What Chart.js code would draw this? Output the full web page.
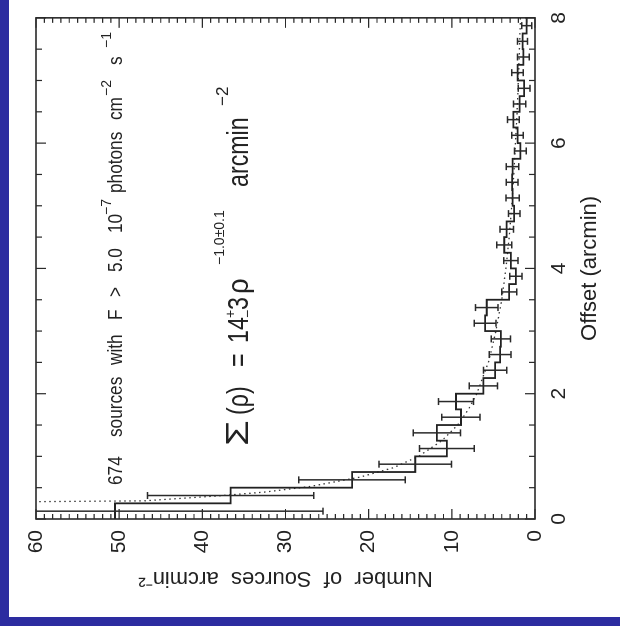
<!DOCTYPE html>
<html>
<head>
<meta charset="utf-8">
<script src="https://cdn.jsdelivr.net/npm/chart.js@4.4.1/dist/chart.umd.min.js"></script>
<style>
  html, body { margin: 0; padding: 0; }
  body { width: 620px; height: 626px; overflow: hidden; position: relative; background: #2c2ca0; }
  #paper { position: absolute; left: 9px; top: 0; width: 611px; height: 617px; background: #ffffff; }
  #wrap { position: absolute; left: 0; top: 0; width: 626px; height: 620px;
          transform-origin: 0 0; transform: translate(0px, 626px) rotate(-90deg); }
  canvas { display: block; }
</style>
</head>
<body>
<div id="paper"></div>
<div id="wrap"><canvas id="c" width="626" height="620"></canvas></div>
<script>
// ---- data ----
const binEdges = [0, 0.25, 0.5, 0.75, 1.0, 1.25, 1.5, 1.75, 2.0, 2.25, 2.5, 2.75, 3.0, 3.25, 3.5, 3.75,
                  4.0, 4.25, 4.5, 4.75, 5.0, 5.25, 5.5, 5.75, 6.0, 6.25, 6.5, 6.75, 7.0, 7.25, 7.5, 7.75, 8.0];
const sourceDensity = [50.5, 36.6, 22.0, 14.4, 10.6, 11.8, 8.9, 9.5, 6.2, 4.8, 4.2, 4.1, 6.0, 5.8, 3.1, 2.3,
                       2.9, 3.7, 3.4, 2.5, 2.7, 2.75, 2.7, 1.75, 2.1, 2.6, 1.85, 1.3, 2.1, 1.4, 1.5, 1.0];
const densityError = [25, 10, 6.4, 4.35, 3.3, 2.85, 2.3, 2.1, 1.7, 1.4, 1.3, 1.15, 1.3, 1.35, 0.9, 0.75,
                      0.85, 0.9, 0.8, 0.7, 0.8, 0.7, 0.75, 0.7, 0.7, 0.7, 0.75, 0.7, 0.7, 0.7, 0.6, 0.6];
const modelOffset = [0.275, 0.29, 0.37, 0.43, 0.52, 0.67, 0.82, 1.0, 1.25, 1.5, 1.75, 2.0, 2.5, 3.0, 3.5,
                     4.0, 4.5, 5.0, 5.5, 6.0, 6.5, 7.0, 7.5, 8.0];
const modelValue = [62, 47, 38, 32.5, 27, 21, 17, 14, 11.2, 9.3, 8.0, 7.0, 5.6, 4.7, 4.0,
                    3.5, 3.1, 2.8, 2.55, 2.35, 2.15, 2.0, 1.87, 1.75];
const offsetTicks = [0, 2, 4, 6, 8];
const densityTicks = [0, 10, 20, 30, 40, 50, 60];

const FONT = '"Liberation Sans", Arial, Helvetica, sans-serif';
const INK = '#222222';

const histData = sourceDensity.map((v, i) => ({ x: binEdges[i], y: v }));
histData.push({ x: binEdges[binEdges.length - 1], y: sourceDensity[sourceDensity.length - 1] });
const modelData = modelOffset.map((o, i) => ({ x: o, y: modelValue[i] }));

const errorBars = {
  id: 'errorBars',
  afterDatasetsDraw(chart) {
    const { ctx, chartArea: a, scales: { x, y } } = chart;
    ctx.save();
    ctx.beginPath();
    ctx.rect(a.left, a.top, a.right - a.left, a.bottom - a.top);
    ctx.clip();
    ctx.strokeStyle = '#2a2a2a';
    ctx.lineWidth = 1.5;
    for (let i = 0; i < sourceDensity.length; i++) {
      const xc = x.getPixelForValue((binEdges[i] + binEdges[i + 1]) / 2);
      const y1 = y.getPixelForValue(sourceDensity[i] - densityError[i]);
      const y2 = y.getPixelForValue(sourceDensity[i] + densityError[i]);
      ctx.beginPath();
      ctx.moveTo(xc, y1); ctx.lineTo(xc, y2);
      ctx.moveTo(xc - 3.5, y1); ctx.lineTo(xc + 3.5, y1);
      ctx.moveTo(xc - 3.5, y2); ctx.lineTo(xc + 3.5, y2);
      ctx.stroke();
    }
    ctx.restore();
  }
};

function piece(ctx, text, u, v, size, sx) {
  ctx.save();
  ctx.font = size + 'px ' + FONT;
  ctx.translate(u, v);
  ctx.scale(sx, 1);
  ctx.textAlign = 'left';
  ctx.textBaseline = 'alphabetic';
  ctx.fillText(text, 0, 0);
  ctx.restore();
}

const frameAndNotes = {
  id: 'frameAndNotes',
  afterDraw(chart) {
    const { ctx, chartArea: a, scales: { x, y } } = chart;
    ctx.save();
    ctx.strokeStyle = '#2a2a2a';
    ctx.lineWidth = 1.6;
    ctx.strokeRect(a.left, a.top, a.right - a.left, a.bottom - a.top);
    ctx.lineWidth = 1.2;
    ctx.beginPath();
    for (let k = 0; k <= 16; k++) {
      const t = k * 0.5;
      const px = x.getPixelForValue(t);
      const len = (k % 4 === 0) ? 10 : 6;
      ctx.moveTo(px, a.bottom); ctx.lineTo(px, a.bottom - len);
      ctx.moveTo(px, a.top); ctx.lineTo(px, a.top + len);
    }
    for (let t = 0; t <= 60; t++) {
      const py = y.getPixelForValue(t);
      const len = (t % 10 === 0) ? 10 : 5;
      ctx.moveTo(a.left, py); ctx.lineTo(a.left + len, py);
      ctx.moveTo(a.right, py); ctx.lineTo(a.right - len, py);
    }
    ctx.stroke();

    // annotations
    ctx.fillStyle = INK;
    const s1 = 0.82, f1 = 21, b1 = 122, p1 = 14, sb1 = 111;
    piece(ctx, '674', 141, b1, f1, s1);
    piece(ctx, 'sources', 189, b1, f1, s1);
    piece(ctx, 'with', 261, b1, f1, s1);
    piece(ctx, 'F', 306, b1, f1, s1);
    piece(ctx, '>', 329, b1, f1, s1);
    piece(ctx, '5.0', 354, b1, f1, s1);
    piece(ctx, '10', 393, b1, f1, s1);
    piece(ctx, '\u22127', 411, sb1, p1, 1);
    piece(ctx, 'photons', 433, b1, f1, s1);
    piece(ctx, 'cm', 506, b1, f1, s1);
    piece(ctx, '\u22122', 530, sb1, p1, 1);
    piece(ctx, 's', 561, b1, f1, s1);
    piece(ctx, '\u22121', 578, sb1, p1, 1);

    const s2 = 0.8, f2 = 29, b2 = 248;
    piece(ctx, '\u03A3', 180, b2, 32, 1.3);
    piece(ctx, '(\u03C1)', 211, b2, f2, s2);
    piece(ctx, '=', 259, b2, f2, s2);
    piece(ctx, '14', 283, b2, f2, s2);
    piece(ctx, '+', 308, 235, 14, 1);
    piece(ctx, '\u2212', 308, 252, 14, 1);
    piece(ctx, '3', 316, b2, f2, s2);
    piece(ctx, '\u03C1', 332, b2, f2, 0.95);
    piece(ctx, '\u22121.0\u00B10.1', 361, 224, 14, 1);
    piece(ctx, 'arcmin', 439, b2, f2, s2);
    piece(ctx, '\u22122', 520, 228, 17, 1);
    ctx.restore();
  }
};

new Chart(document.getElementById('c'), {
  type: 'line',
  data: {
    datasets: [
      { label: 'histogram', data: histData, stepped: true, borderColor: INK, borderWidth: 1.8,
        pointRadius: 0, fill: false },
      { label: 'model', data: modelData, borderColor: '#333333', borderWidth: 1.3, borderDash: [1.5, 3.5],
        pointRadius: 0, fill: false, tension: 0 }
    ]
  },
  options: {
    responsive: false,
    animation: false,
    devicePixelRatio: 1,
    layout: { padding: { left: 0, right: 10, top: 36, bottom: 0 } },
    plugins: { legend: { display: false }, tooltip: { enabled: false } },
    scales: {
      x: {
        type: 'linear', min: 0, max: 8,
        afterBuildTicks(s) { s.ticks = offsetTicks.map(v => ({ value: v })); },
        ticks: { font: { family: FONT, size: 21 }, color: INK, padding: 12, maxRotation: 0 },
        grid: { display: false, drawTicks: false },
        border: { display: false },
        title: { display: true, text: 'Offset (arcmin)', color: INK,
                 font: { family: FONT, size: 22 }, padding: { top: 0, bottom: 17 } },
        afterFit(s) { s.height = 85; }
      },
      y: {
        type: 'linear', min: 0, max: 60,
        afterBuildTicks(s) { s.ticks = densityTicks.map(v => ({ value: v })); },
        ticks: { font: { family: FONT, size: 21 }, color: INK, padding: 11 },
        grid: { display: false, drawTicks: false },
        border: { display: false },
        title: { display: true, text: 'Number  of  Sources  arcmin\u207B\u00B2', color: INK,
                 font: { family: FONT, size: 22 }, padding: { top: 35, bottom: 0 } },
        afterFit(s) { s.width = 107; }
      }
    }
  },
  plugins: [errorBars, frameAndNotes]
});
</script>
</body>
</html>
